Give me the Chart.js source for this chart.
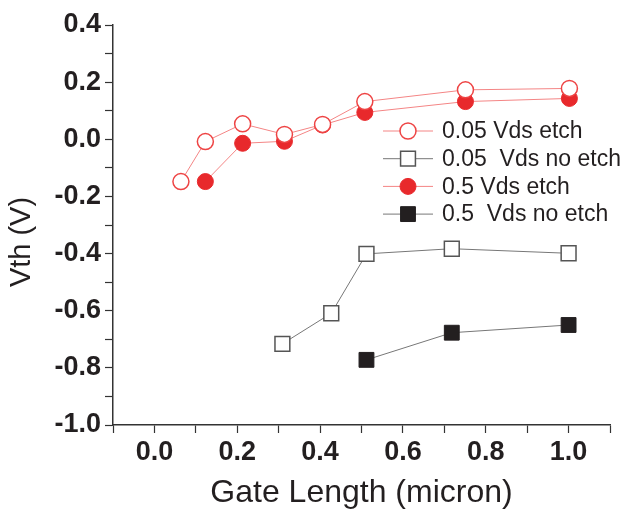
<!DOCTYPE html>
<html>
<head>
<meta charset="utf-8">
<script src="https://cdn.jsdelivr.net/npm/chart.js@4/dist/chart.umd.min.js"></script>
<style>
html,body{margin:0;padding:0;background:#fff;}
#wrap{width:630px;height:512px;position:relative;}
</style>
</head>
<body>
<div id="wrap"><canvas id="c" width="630" height="512"></canvas></div>
<script>
// ---- Data ----
const seriesNames = ["0.05 Vds etch", "0.05  Vds no etch", "0.5 Vds etch", "0.5  Vds no etch"];
const etch005X = [0.064, 0.123, 0.213, 0.314, 0.406, 0.508, 0.751, 1.002];
const etch005Y = [-0.148, -0.008, 0.054, 0.017, 0.052, 0.132, 0.173, 0.178];
const noetch005X = [0.309, 0.427, 0.512, 0.718, 1.000];
const noetch005Y = [-0.716, -0.609, -0.401, -0.383, -0.399];
const etch05X = [0.123, 0.213, 0.314, 0.406, 0.508, 0.751, 1.002];
const etch05Y = [-0.148, -0.014, -0.007, 0.050, 0.094, 0.132, 0.143];
const noetch05X = [0.512, 0.718, 1.000];
const noetch05Y = [-0.772, -0.677, -0.650];
const xTitle = "Gate Length (micron)";
const yTitle = "Vth (V)";

const pts = (xs, ys) => xs.map((x, i) => ({x: x, y: ys[i]}));

const FONT = "'Liberation Sans', Arial, Helvetica, sans-serif";

const datasets = [
  {label: seriesNames[0], data: pts(etch005X, etch005Y), showLine: true,
   borderColor: '#f48585', borderWidth: 1, pointStyle: 'circle', pointRadius: 8,
   pointBackgroundColor: '#ffffff', pointBorderColor: '#ee4444', pointBorderWidth: 1.5},
  {label: seriesNames[1], data: pts(noetch005X, noetch005Y), showLine: true,
   borderColor: '#777777', borderWidth: 1, pointStyle: 'rect', pointRadius: 10.5,
   pointBackgroundColor: '#ffffff', pointBorderColor: '#555555', pointBorderWidth: 1.5},
  {label: seriesNames[2], data: pts(etch05X, etch05Y), showLine: true,
   borderColor: '#f48585', borderWidth: 1, pointStyle: 'circle', pointRadius: 8,
   pointBackgroundColor: '#e8292c', pointBorderColor: '#e8292c', pointBorderWidth: 1},
  {label: seriesNames[3], data: pts(noetch05X, noetch05Y), showLine: true,
   borderColor: '#777777', borderWidth: 1, pointStyle: 'rect', pointRadius: 10.5,
   pointBackgroundColor: '#231f20', pointBorderColor: '#231f20', pointBorderWidth: 1}
];

const legendPlugin = {
  id: 'innerLegend',
  afterDatasetsDraw(chart) {
    const ctx = chart.ctx;
    const x0 = 383, x1 = 433, xm = 408, tx = 442;
    const y0 = 131, dy = 27.7;
    ctx.save();
    chart.data.datasets.forEach((ds, i) => {
      const y = y0 + i * dy;
      ctx.strokeStyle = ds.borderColor;
      ctx.lineWidth = 1;
      ctx.beginPath();
      ctx.moveTo(x0, y); ctx.lineTo(x1, y);
      ctx.stroke();
      ctx.fillStyle = ds.pointBackgroundColor;
      ctx.strokeStyle = ds.pointBorderColor;
      ctx.lineWidth = ds.pointBorderWidth;
      ctx.beginPath();
      if (ds.pointStyle === 'circle') {
        ctx.arc(xm, y, ds.pointRadius, 0, Math.PI * 2);
      } else {
        const s = Math.SQRT1_2 * ds.pointRadius;
        ctx.rect(xm - s, y - s, 2 * s, 2 * s);
      }
      ctx.fill();
      ctx.stroke();
      ctx.fillStyle = '#231f20';
      ctx.font = '23px ' + FONT;
      ctx.textBaseline = 'middle';
      ctx.textAlign = 'left';
      ctx.fillText(ds.label, tx, y + 1);
    });
    // y axis title
    ctx.translate(22, 242);
    ctx.rotate(-Math.PI / 2);
    ctx.fillStyle = '#231f20';
    ctx.font = '29px ' + FONT;
    ctx.textAlign = 'center';
    ctx.textBaseline = 'middle';
    ctx.fillText(yTitle, 0, 0);
    ctx.restore();
  }
};

new Chart(document.getElementById('c'), {
  type: 'scatter',
  data: {datasets: datasets},
  plugins: [legendPlugin],
  options: {
    responsive: false,
    animation: false,
    events: [],
    layout: {padding: {left: 0, right: 20, top: 25, bottom: 0}},
    plugins: {legend: {display: false}, tooltip: {enabled: false}},
    scales: {
      x: {
        type: 'linear', min: -0.1, max: 1.1,
        afterFit: (s) => { s.height = 87; },
        ticks: {stepSize: 0.1, autoSkip: false, maxRotation: 0, padding: 3,
          color: '#231f20', font: {family: FONT, size: 27, weight: 'bold'},
          callback: (v) => { const k = Math.round(v * 10); return (k % 2 === 0 && k >= 0 && k <= 10) ? (k / 10).toFixed(1) : ''; }},
        grid: {drawOnChartArea: false, drawTicks: true, tickLength: 8, color: '#333333', tickWidth: 1.2},
        border: {display: true, color: '#333333', width: 1.5},
        title: {display: true, text: xTitle, color: '#231f20', font: {family: FONT, size: 32}, padding: {top: 0, bottom: 0}}
      },
      y: {
        type: 'linear', min: -1.0, max: 0.4,
        afterFit: (s) => { s.width = 113; },
        ticks: {stepSize: 0.1, autoSkip: false, padding: 4,
          color: '#231f20', font: {family: FONT, size: 27, weight: 'bold'},
          callback: (v) => { const k = Math.round(v * 10); return (k % 2 === 0) ? (k / 10).toFixed(1) : ''; }},
        grid: {drawOnChartArea: false, drawTicks: true, tickLength: 8, color: '#333333', tickWidth: 1.2},
        border: {display: true, color: '#333333', width: 1.5},
        title: {display: false, text: yTitle}
      }
    }
  }
});
</script>
</body>
</html>
